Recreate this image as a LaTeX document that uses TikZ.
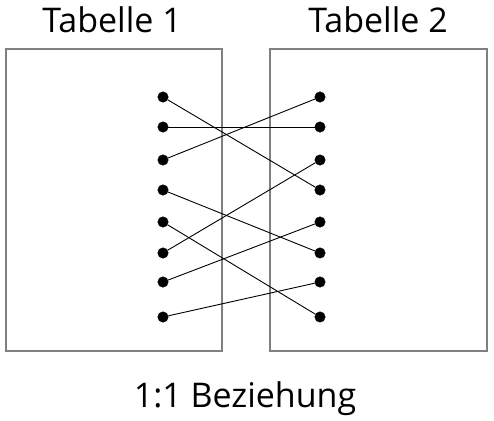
\documentclass[tikz,border=0pt]{standalone}
\usepackage{fontspec}
\setmainfont{Open Sans}
\usetikzlibrary{positioning}
\tikzstyle{tinyvertex}=[circle,fill=black,draw=black,minimum size=10.5pt,inner sep=0pt]
\tikzstyle{tablebox}=[draw=black!50,line width=2pt,inner sep=0pt]
\tikzstyle{undirectededge}=[draw,line width=0.9pt]
\tikzstyle{title}=[font=\fontsize{34}{40}\selectfont,anchor=base]

\begin{document}
\begin{tikzpicture}[x=1pt,y=-1pt]
    \useasboundingbox (0,0) rectangle (494,420);

    % the two tables
    \node[tablebox,minimum width=216pt,minimum height=302pt] (T1) at (114,200) {};
    \node[tablebox,minimum width=217pt,minimum height=302pt] (T2) at (378.5,200) {};
    \node[title] (t1) at (112,33) {Tabelle 1};
    \node[title] (t2) at (378,33) {Tabelle 2};

    % rows of both tables
    \foreach \y/\name in {97/L1, 127/L2, 160/L3, 190/L4, 222/L5, 253/L6, 282/L7, 317/L8}
        \node[tinyvertex] (\name) at (163,\y) {};
    \foreach \y/\name in {97/R1, 127/R2, 160/R3, 190/R4, 222/R5, 253/R6, 282/R7, 317/R8}
        \node[tinyvertex] (\name) at (320,\y) {};

    % each row matched to exactly one row
    \foreach \source/\dest in {L1/R4, L2/R2, L3/R1, L4/R6, L5/R8, L6/R3, L7/R5, L8/R7}
        \path[undirectededge] (\source) -- (\dest);

    \node[title] (rel) at (245,407) {1:1 Beziehung};
\end{tikzpicture}
\end{document}
